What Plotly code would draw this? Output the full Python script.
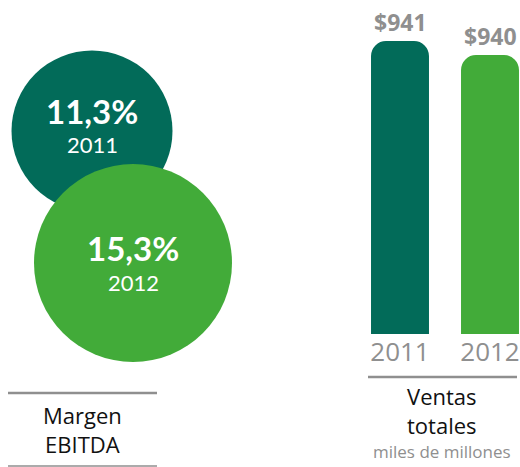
import plotly.graph_objects as go

# Data
ebitda_years = ["2011", "2012"]
ebitda_values = [11.3, 15.3]
ebitda_labels = ["11,3%", "15,3%"]

sales_years = ["2011", "2012"]
sales_values = [941, 940]
sales_labels = ["$941", "$940"]

DARK = "#026b59"
LIGHT = "#42ab39"
GRAY = "#8f8f8f"
FONT = "Open Sans"
CFONT = "Lato"

W, H = 520, 467
fig = go.Figure()

# Circles (pixel-like coordinate axes)
circle_pos_x = [92, 133]
circle_pos_y = [131, 263]
circle_size = [161, 198]
pct_label_y = [111, 248]
year_label_y = [144, 282]
fig.add_trace(go.Scatter(
    x=circle_pos_x, y=circle_pos_y, mode="markers",
    marker=dict(size=circle_size, color=[DARK, LIGHT], line=dict(width=0), opacity=1),
    xaxis="x", yaxis="y", hoverinfo="skip", showlegend=False))

for i in range(2):
    fig.add_annotation(x=circle_pos_x[i], y=pct_label_y[i], xref="x", yref="y",
                       text="<b>%s</b>" % ebitda_labels[i], showarrow=False, borderpad=0,
                       font=dict(family=CFONT, size=33, color="white"))
    fig.add_annotation(x=circle_pos_x[i], y=year_label_y[i], xref="x", yref="y",
                       text=ebitda_years[i], showarrow=False, borderpad=0,
                       font=dict(family=CFONT, size=22, color="white"))

# Bars
fig.add_trace(go.Bar(
    x=sales_years, y=sales_values, base=0,
    marker=dict(color=[DARK, LIGHT], line=dict(width=0)),
    width=0.644, xaxis="x2", yaxis="y2", hoverinfo="skip", showlegend=False))

for i in range(2):
    fig.add_annotation(x=i, y=sales_values[i], xref="x2", yref="y2",
                       text="<b>%s</b>" % sales_labels[i], showarrow=False,
                       yanchor="bottom", yshift=1,
                       font=dict(family=FONT, size=23, color=GRAY))

# Lines and captions
fig.add_shape(type="line", xref="paper", yref="paper",
              x0=368 / W, x1=517 / W, y0=1 - 377 / H, y1=1 - 377 / H,
              line=dict(color=GRAY, width=2.5))
fig.add_shape(type="line", xref="paper", yref="paper",
              x0=8 / W, x1=157 / W, y0=1 - 393 / H, y1=1 - 393 / H,
              line=dict(color=GRAY, width=2.5))
fig.add_shape(type="line", xref="paper", yref="paper",
              x0=8 / W, x1=157 / W, y0=1 - 466 / H, y1=1 - 466 / H,
              line=dict(color=GRAY, width=1.5))

fig.add_annotation(x=82, y=429, xref="x", yref="y", text="Margen<br>EBITDA",
                   showarrow=False, borderpad=0,
                   font=dict(family=FONT, size=22, color="#111111"))
fig.add_annotation(x=442, y=410, xref="x", yref="y", text="Ventas<br>totales",
                   showarrow=False, borderpad=0,
                   font=dict(family=FONT, size=22, color="#111111"))
fig.add_annotation(x=442, y=451, xref="x", yref="y", text="miles de millones",
                   showarrow=False, borderpad=0,
                   font=dict(family=FONT, size=17, color=GRAY))

# y scale for bars: bottom pixel 334, 941 -> 41, 940 -> 55 (14 px per unit)
px_per_unit = 14.0
y_bottom_px = 334
y_base = 941 - (y_bottom_px - 41) / px_per_unit
y_top = y_base + y_bottom_px / px_per_unit

fig.update_layout(
    width=W, height=H, autosize=False,
    margin=dict(l=0, r=0, t=0, b=0),
    paper_bgcolor="white", plot_bgcolor="rgba(0,0,0,0)",
    barcornerradius=15,
    xaxis=dict(domain=[0, 1], range=[0, W], visible=False, fixedrange=True),
    yaxis=dict(domain=[0, 1], range=[H, 0], visible=False, fixedrange=True),
    xaxis2=dict(type="category", domain=[355 / W, 1], range=[-0.5, 1 + 30 / 90], anchor="y2",
                showgrid=False, zeroline=False, showline=False,
                tickfont=dict(family=FONT, size=26, color=GRAY), ticks="",
                ticklabelstandoff=0, fixedrange=True),
    yaxis2=dict(domain=[1 - y_bottom_px / H, 1], range=[y_base, y_top], anchor="x2",
                visible=False, fixedrange=True),
)

fig.write_html("out.html", config={"displayModeBar": False},
               post_script="document.body.style.margin='0';document.body.style.overflow='hidden';")
